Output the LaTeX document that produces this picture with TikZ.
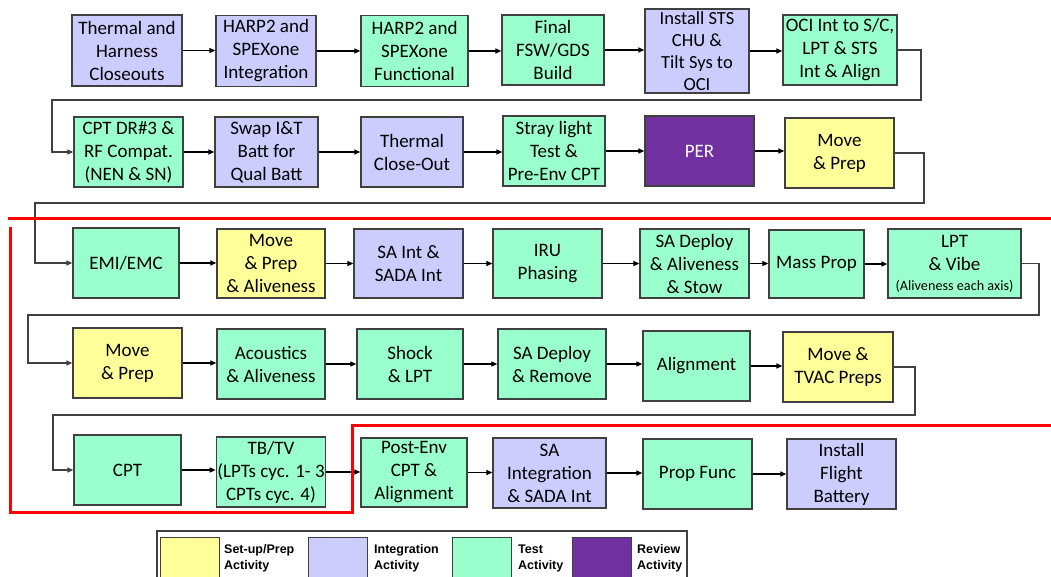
\documentclass[tikz,border=0pt]{standalone}
\usepackage{fontspec}
\setmainfont{Carlito}
\newfontfamily\legfont{Liberation Sans}
\usetikzlibrary{arrows.meta}
\definecolor{prep}{HTML}{FFFF99}
\definecolor{integ}{HTML}{CCCCFF}
\definecolor{test}{HTML}{99FFCC}
\definecolor{review}{HTML}{7030A0}
\definecolor{edge}{HTML}{404040}
\definecolor{redline}{HTML}{FF0000}
\begin{document}
\begin{tikzpicture}[x=1pt,y=-1pt,
  box/.style={draw=edge, line width=1.3pt, align=center, inner sep=1pt,
    font=\fontsize{19}{23}\selectfont, text=black},
  arr/.style={-{Triangle[length=6pt,width=5pt]}, line width=1.2pt, draw=black},
  ret/.style={-{Triangle[length=6pt,width=5pt]}, line width=1.3pt, draw=edge},
  sw/.style={draw=edge, line width=1pt, minimum width=59pt, minimum height=48pt, inner sep=0pt},
  legtext/.style={anchor=west, align=left, inner sep=0pt,
    font=\legfont\bfseries\fontsize{12.5}{16}\selectfont},
  redpath/.style={draw=redline, line width=3pt}
]
\useasboundingbox (0,0) rectangle (1051,577);

% Row 1
\node[box, fill=integ, minimum width=110pt, minimum height=71pt] (B1) at (127,50.5) {Thermal and\\Harness\\Closeouts};
\node[box, fill=integ, minimum width=100pt, minimum height=71pt] (B2) at (266,51) {HARP2 and\\SPEXone\\Integration};
\node[box, fill=test, minimum width=107pt, minimum height=71pt] (B3) at (414.5,51) {HARP2 and\\SPEXone\\Functional};
\node[box, fill=test, minimum width=102pt, minimum height=70pt] (B4) at (553,50) {Final\\FSW/GDS\\Build};
\node[box, fill=integ, minimum width=104pt, minimum height=84pt, font=\fontsize{18.5}{22}\selectfont] (B5) at (697,51) {Install STS\\CHU \&\\Tilt Sys to\\OCI};
\node[box, fill=test, minimum width=114pt, minimum height=70pt] (B6) at (840,50) {OCI Int to S/C,\\LPT \& STS\\Int \& Align};

% Row 2
\node[box, fill=test, minimum width=109pt, minimum height=70pt] (C1) at (128.5,152) {CPT DR\#3 \&\\RF Compat.\\(NEN \& SN)};
\node[box, fill=integ, minimum width=103pt, minimum height=70pt] (C2) at (266.5,152) {Swap I\&T\\Batt for\\Qual Batt};
\node[box, fill=integ, minimum width=102pt, minimum height=70pt] (C3) at (412,152) {Thermal\\Close-Out};
\node[box, fill=test, minimum width=102pt, minimum height=70pt] (C4) at (554,151) {Stray light\\Test \&\\Pre-Env CPT};
\node[box, fill=review, minimum width=109pt, minimum height=70pt, text=white] (C5) at (699.5,151) {PER};
\node[box, fill=prep, minimum width=109pt, minimum height=70pt] (C6) at (839.5,153) {Move\\\& Prep};

% Row 3
\node[box, fill=test, minimum width=106pt, minimum height=70pt] (D1) at (126,263) {EMI/EMC};
\node[box, fill=prep, minimum width=108pt, minimum height=69pt] (D2) at (271,263.5) {Move\\\& Prep\\\& Aliveness};
\node[box, fill=integ, minimum width=109pt, minimum height=69pt] (D3) at (408.5,263.5) {SA Int \&\\SADA Int};
\node[box, fill=test, minimum width=109pt, minimum height=69pt] (D4) at (547.5,263.5) {IRU\\Phasing};
\node[box, fill=test, minimum width=109pt, minimum height=69pt] (D5) at (694.5,263.5) {SA Deploy\\\& Aliveness\\\& Stow};
\node[box, fill=test, minimum width=95pt, minimum height=68pt] (D6) at (816.5,264) {Mass Prop};
\node[box, fill=test, minimum width=133pt, minimum height=69pt] (D7) at (954.5,263.5) {LPT\\\& Vibe\\[-3pt]{\fontsize{14.2}{16}\selectfont (Aliveness each axis)}};

% Row 4
\node[box, fill=prep, minimum width=109pt, minimum height=70pt] (E1) at (127.5,363) {Move\\\& Prep};
\node[box, fill=test, minimum width=108pt, minimum height=70pt] (E2) at (271,364) {Acoustics\\\& Aliveness};
\node[box, fill=test, minimum width=106pt, minimum height=70pt] (E3) at (410,364) {Shock\\\& LPT};
\node[box, fill=test, minimum width=108pt, minimum height=70pt] (E4) at (552,364) {SA Deploy\\\& Remove};
\node[box, fill=test, minimum width=107pt, minimum height=70pt] (E5) at (696.5,366) {Alignment};
\node[box, fill=prep, minimum width=110pt, minimum height=70pt] (E6) at (838,367) {Move \&\\TVAC Preps};

% Row 5
\node[box, fill=test, minimum width=107pt, minimum height=70pt] (F1) at (127.5,470) {CPT};
\node[box, fill=test, minimum width=108pt, minimum height=70pt] (F2) at (271,472) {TB/TV\\(LPTs cyc. 1- 3\\CPTs cyc. 4)};
\node[box, fill=test, minimum width=106pt, minimum height=69pt] (F3) at (414,472.5) {Post-Env\\CPT \&\\Alignment};
\node[box, fill=integ, minimum width=113pt, minimum height=70pt] (F4) at (549.5,473) {SA\\Integration\\\& SADA Int};
\node[box, fill=test, minimum width=109pt, minimum height=70pt] (F5) at (697.5,474) {Prop Func};
\node[box, fill=integ, minimum width=109pt, minimum height=70pt] (F6) at (841.5,474) {Install\\Flight\\Battery};

% Row connectors
\foreach \a/\b in {B1/B2,B2/B3,B3/B4,B4/B5,B5/B6,
                   C1/C2,C2/C3,C3/C4,C4/C5,C5/C6,
                   D1/D2,D2/D3,D3/D4,D4/D5,D5/D6,D6/D7,
                   E1/E2,E2/E3,E3/E4,E4/E5,E5/E6,
                   F1/F2,F2/F3,F3/F4,F4/F5,F5/F6}
  \draw[arr] (\a.east) -- (\a.east -| \b.west);

% Return connectors
\draw[ret] (B6.east) -| (921,100) -- (52,100) |- (C1.west);
\draw[ret] (C6.east) -| (924,203) -- (35,203) |- (D1.west);
\draw[ret] (D7.east) -| (1039,315) -- (28,315) |- (E1.west);
\draw[ret] (E6.east) -| (915,415) -- (53,415) |- (F1.west);

% Red boundary
\draw[redpath] (8,219) -- (1051,219);
\draw[redpath] (10,227) -- (10,512) -- (352,512) -- (352,425) -- (1051,425);

% Legend
\node[draw=edge, line width=1.2pt, minimum width=530pt, minimum height=70pt, inner sep=0pt] (LEG) at (422,566) {};
\node[sw, fill=prep] (L1) at (189.5,561) {};
\node[legtext] (L1t) at (224,558) {Set-up/Prep\\Activity};
\node[sw, fill=integ] (L2) at (337.5,561) {};
\node[legtext] (L2t) at (374,558) {Integration\\Activity};
\node[sw, fill=test] (L3) at (481.5,561) {};
\node[legtext] (L3t) at (518,558) {Test\\Activity};
\node[sw, fill=review] (L4) at (602,561) {};
\node[legtext] (L4t) at (637,558) {Review\\Activity};
\end{tikzpicture}
\end{document}
